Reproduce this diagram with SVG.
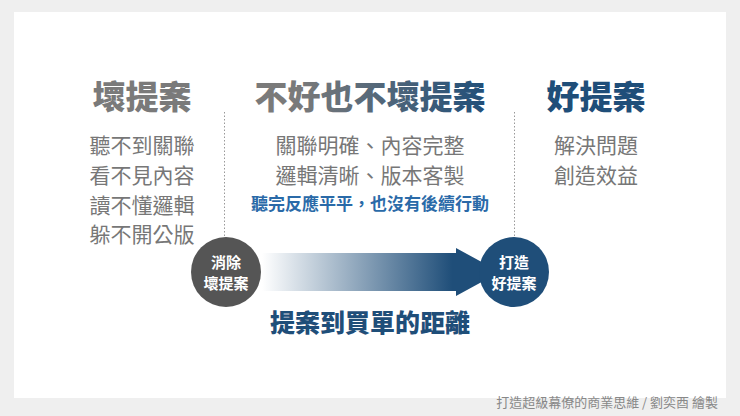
<svg xmlns="http://www.w3.org/2000/svg" width="740" height="416" viewBox="0 0 740 416">
<defs>
<linearGradient id="ag" x1="262" y1="0" x2="500" y2="0" gradientUnits="userSpaceOnUse">
<stop offset="0" stop-color="#ffffff"/><stop offset="0.8" stop-color="#1f4e79"/><stop offset="1" stop-color="#1f4e79"/>
</linearGradient>
<linearGradient id="tg" x1="250" y1="0" x2="490" y2="0" gradientUnits="userSpaceOnUse">
<stop offset="0.2" stop-color="#7a7a7a"/><stop offset="1" stop-color="#1f4e79"/>
</linearGradient>
</defs>
<style>
text{font-family:"Noto Sans CJK TC","Noto Sans CJK SC",sans-serif;text-anchor:middle}
.t{font-size:33px;font-weight:900}
.l{font-size:21px;fill:#777}
.c{font-size:15px;font-weight:bold;fill:#fff}
.d{stroke:#999;stroke-width:1;stroke-dasharray:1.5 2}
</style>
<rect width="740" height="416" fill="#efefef"/>
<rect x="14" y="12" width="712" height="386" fill="#fff"/>
<g id="col-bad">
<text class="t" x="142" y="109" fill="#7a7a7a">壞提案</text>
<text class="l" x="142" y="153">聽不到關聯</text>
<text class="l" x="142" y="183">看不見內容</text>
<text class="l" x="142" y="213">讀不懂邏輯</text>
<text class="l" x="142" y="242">躲不開公版</text>
</g>
<g id="col-mid">
<text class="t" x="370" y="109" fill="url(#tg)">不好也不壞提案</text>
<text class="l" x="370" y="153">關聯明確、內容完整</text>
<text class="l" x="370" y="183">邏輯清晰、版本客製</text>
<text x="370" y="210" style="font-size:17px;font-weight:bold;fill:#2a6aa8">聽完反應平平，也沒有後續行動</text>
</g>
<g id="col-good">
<text class="t" x="596" y="109" fill="#1f4e79">好提案</text>
<text class="l" x="596" y="153">解決問題</text>
<text class="l" x="596" y="183">創造效益</text>
</g>
<g id="connectors">
<line class="d" x1="224.5" y1="112" x2="224.5" y2="238"/>
<line class="d" x1="514.5" y1="112" x2="514.5" y2="238"/>
<polygon points="262,253 456,253 456,248 500,272 456,296 456,291 262,291" fill="url(#ag)"/>
</g>
<g id="node-remove">
<circle cx="226" cy="272" r="35" fill="#555"/>
<text class="c" x="226" y="268">消除</text>
<text class="c" x="226" y="289">壞提案</text>
</g>
<g id="node-make">
<circle cx="514" cy="272" r="35" fill="#1f4e79"/>
<text class="c" x="514" y="268">打造</text>
<text class="c" x="514" y="289">好提案</text>
</g>
<text x="370" y="332" style="font-size:25px;font-weight:900;fill:#1f4e79">提案到買單的距離</text>
<text x="718" y="407" style="font-size:13px;fill:#888;text-anchor:end">打造超級幕僚的商業思維 / 劉奕酉 繪製</text>
</svg>
